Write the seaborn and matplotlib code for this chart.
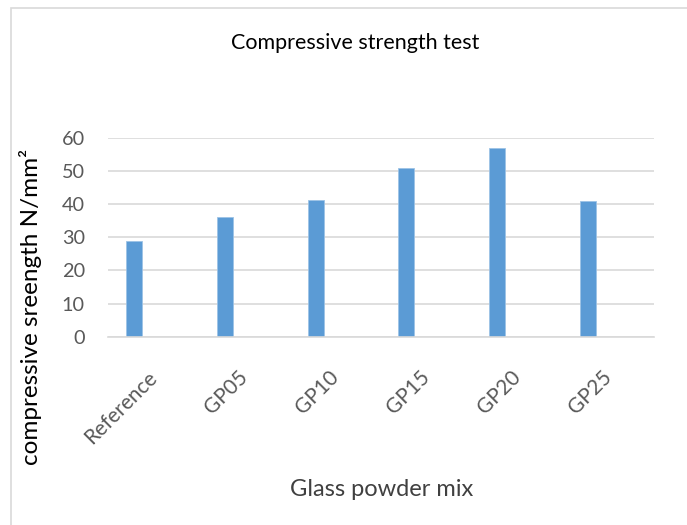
import numpy as np
import pandas as pd
import seaborn as sns
import matplotlib.pyplot as plt
from matplotlib.patches import Rectangle

# data
mixes = ["Reference", "GP05", "GP10", "GP15", "GP20", "GP25"]
strength = [28.8, 36.1, 41.2, 51.0, 56.8, 40.8]
y_ticks = [0, 10, 20, 30, 40, 50, 60]

df = pd.DataFrame({"mix": mixes, "strength": strength})

sns.set_theme(style="white")
plt.rcParams['font.family'] = ['Lato', 'DejaVu Sans']

fig = plt.figure(figsize=(6.87, 5.25), dpi=100)
ax = fig.add_axes([0.1576, 0.3587, 0.7943, 0.379])

sns.barplot(data=df, x="mix", y="strength", color="#5B9BD5", width=0.176,
            saturation=1, ax=ax, edgecolor="#9DC3E6", linewidth=0.6)
# excel-style clustered offset (empty second series slot)
for p in ax.patches:
    p.set_x(p.get_x() - 0.221)

ax.set_ylim(0, 60)
ax.set_xlim(-0.5, len(mixes) - 0.5)
ax.set_yticks(y_ticks)
ax.yaxis.grid(True, color="#D9D9D9", linewidth=1.2)
ax.set_axisbelow(True)
for s in ["left", "right", "top"]:
    ax.spines[s].set_visible(False)
ax.spines["bottom"].set_color("#D9D9D9")
ax.spines["bottom"].set_linewidth(1.2)

ax.tick_params(axis="y", labelsize=14.3, labelcolor="#595959", length=0, pad=17)
ax.tick_params(axis="x", labelsize=15, labelcolor="#595959", length=0, pad=27)
plt.setp(ax.get_xticklabels(), rotation=45, ha="right", va="center",
         rotation_mode="anchor")
ax.set_xlabel("")
ax.set_ylabel("")

fig.text(0.517, 0.918, "Compressive strength test", ha="center", va="center",
         fontsize=15.5, color="#000000")
fig.text(0.555, 0.067, "Glass powder mix", ha="center", va="center",
         fontsize=17, color="#404040")
fig.text(0.045, 0.416, "compressive sreength N/mm²", ha="center", va="center",
         rotation=90, fontsize=17.5, color="#000000")

# chart border
fig.patches.append(Rectangle((0.016, -0.1), 1.2, 1.085, transform=fig.transFigure,
                             fill=False, edgecolor="#D9D9D9", linewidth=1.2))

fig.savefig("out.png", dpi=100)
